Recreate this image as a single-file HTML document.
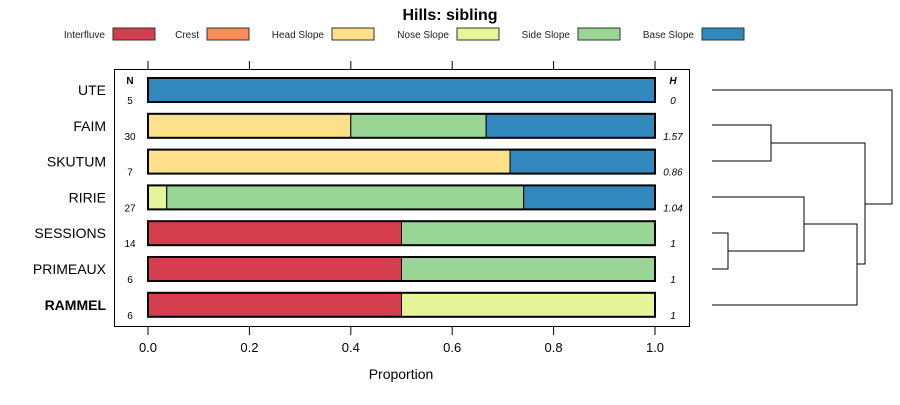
<!DOCTYPE html>
<html><head><meta charset="utf-8"><style>
body{margin:0;background:#fff}
svg{font-family:"Liberation Sans",sans-serif}
</style></head><body>
<svg id="c" width="900" height="400"></svg>
<script>
const categories=["UTE","FAIM","SKUTUM","RIRIE","SESSIONS","PRIMEAUX","RAMMEL"];
const seriesNames=["Interfluve","Crest","Head Slope","Nose Slope","Side Slope","Base Slope"];
const colors=["#D53E4F","#FC8D59","#FEE08B","#E6F598","#99D594","#3288BD"];
const interfluve=[0,0,0,0,0.5,0.5,0.5];
const crest=[0,0,0,0,0,0,0];
const headSlope=[0,0.4,0.714,0,0,0,0];
const noseSlope=[0,0,0,0.037,0,0,0.5];
const sideSlope=[0,0.267,0,0.704,0.5,0.5,0];
const baseSlope=[1,0.333,0.286,0.259,0,0,0];
const nValues=["5","30","7","27","14","6","6"];
const hValues=["0","1.57","0.86","1.04","1","1","1"];
const ticks=[0,0.2,0.4,0.6,0.8,1.0];
const tickLabels=["0.0","0.2","0.4","0.6","0.8","1.0"];
const series=[interfluve,crest,headSlope,noseSlope,sideSlope,baseSlope];
const svg=document.getElementById('c');
const NS="http://www.w3.org/2000/svg";
function mk(t,a,p){const e=document.createElementNS(NS,t);for(const k in a)e.setAttribute(k,a[k]);(p||svg).appendChild(e);return e;}
const x=v=>148+v*507;
const y=i=>90+i*35.8;
let t=mk('text',{x:450,y:20,'text-anchor':'middle','font-size':16,'font-weight':'bold'});t.textContent="Hills: sibling";


const lx=[105,199,324,449,570,694];
seriesNames.forEach((n,i)=>{
 const g=mk('g',{});
 
 
 const tt=mk('text',{x:lx[i],y:38,'text-anchor':'end','font-size':10,fill:'#222'},g);tt.textContent=n;
 mk('rect',{x:lx[i]+8,y:28,width:42,height:12,fill:colors[i],stroke:'#333','stroke-width':1},g);
});
const box=mk('rect',{x:114.5,y:69.5,width:575,height:257,fill:'none',stroke:'#000'});


ticks.forEach((v,i)=>{
 mk('line',{x1:x(v),x2:x(v),y1:61,y2:69,stroke:'#000'});
 mk('line',{x1:x(v),x2:x(v),y1:327,y2:335,stroke:'#000'});
 const l=mk('text',{x:x(v),y:352,'text-anchor':'middle','font-size':13});l.textContent=tickLabels[i];
 
 
});
let xt=mk('text',{x:401,y:379,'text-anchor':'middle','font-size':14});xt.textContent="Proportion";


let nh=mk('text',{x:130,y:84,'text-anchor':'middle','font-size':10,'font-weight':'bold'});nh.textContent="N";
let hh=mk('text',{x:673,y:84,'text-anchor':'middle','font-size':10,'font-weight':'bold','font-style':'italic'});hh.textContent="H";
categories.forEach((c,i)=>{
 const cy=y(i);
 const l=mk('text',{x:106,y:cy+5,'text-anchor':'end','font-size':14,'font-weight':i==6?'bold':'normal'});l.textContent=c;
 
 
 const n=mk('text',{x:130,y:cy+14,'text-anchor':'middle','font-size':10});n.textContent=nValues[i];
 const h=mk('text',{x:673,y:cy+14,'text-anchor':'middle','font-size':10,'font-style':'italic'});h.textContent=hValues[i];
 let acc=0;
 series.forEach((s,k)=>{
  if(s[i]>0){
   const r=mk('rect',{x:x(acc),y:cy-12,width:x(acc+s[i])-x(acc),height:24,fill:colors[k],stroke:'#000','stroke-width':1});
   
   
   acc+=s[i];
  }
 });
 const o=mk('rect',{x:x(0),y:cy-12,width:x(1)-x(0),height:24,fill:'none',stroke:'#000','stroke-width':2});
});
const dp="M712 90H892V204H865 M712 125H771V161H712 M771 143H865V264H857 M712 197H804V251H728 M712 233H728V269H712 M804 224H857V305H712";
const d=mk('path',{d:dp,fill:'none',stroke:'#000','stroke-width':1});


</script>
</body></html>
